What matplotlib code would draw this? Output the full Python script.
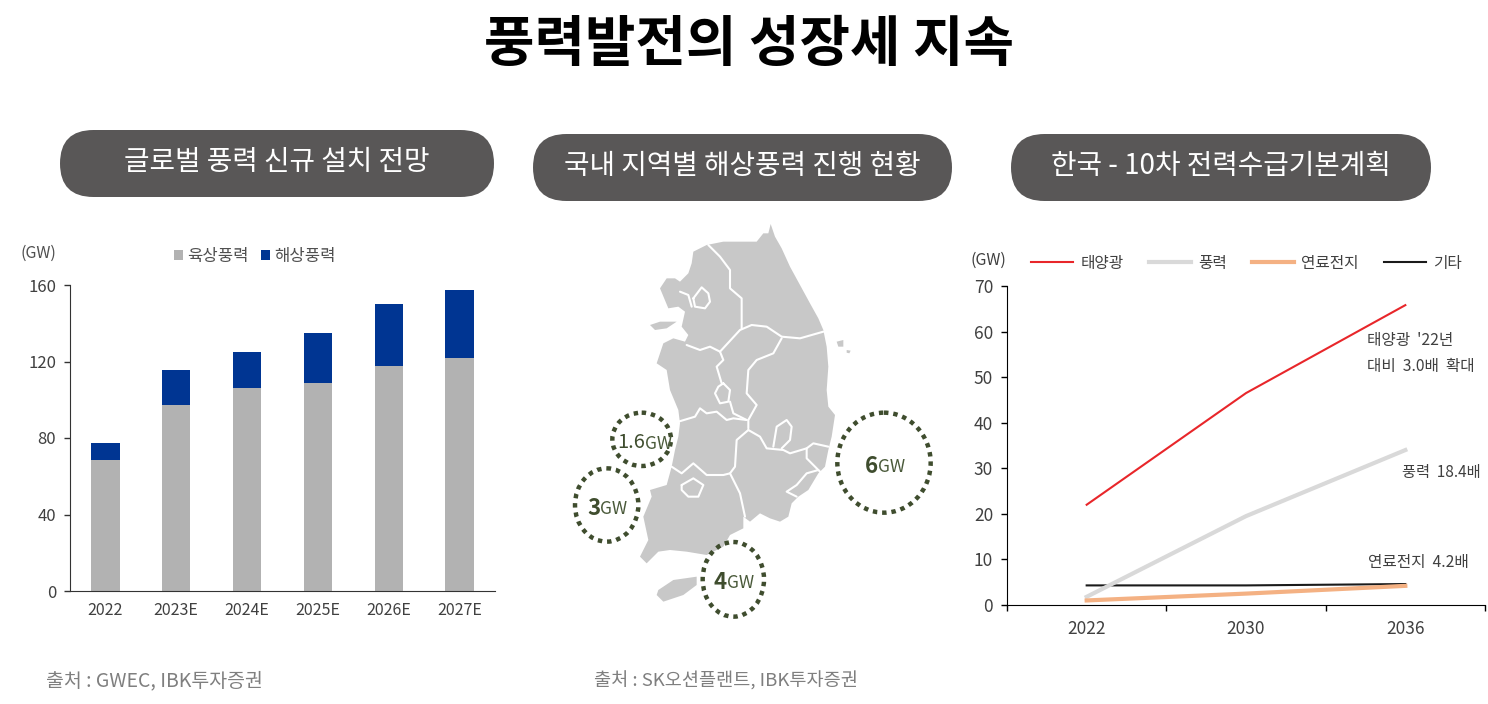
import matplotlib
matplotlib.use("Agg")
import matplotlib.pyplot as plt
from matplotlib.patches import Ellipse, FancyBboxPatch, Polygon

plt.rcParams['font.family'] = ['Noto Sans CJK KR', 'DejaVu Sans']

W, H = 1488, 704

# bar chart
bar_years = ["2022", "2023E", "2024E", "2025E", "2026E", "2027E"]
onshore = [68.5, 97, 106, 109, 117.6, 122]
offshore = [8.7, 18.5, 19, 26, 32.5, 35.3]

# line chart
line_years = ["2022", "2030", "2036"]
solar = [22, 46.5, 65.8]
wind = [1.8, 19.5, 34]
fuel_cell = [1, 2.5, 4.2]
other = [4.3, 4.3, 4.6]

# map (3x crop coordinates)
mainland = [(632, 42), (645, 80), (665, 115), (690, 170), (720, 225), (750, 280), (775, 325), (790, 360),
            (800, 410), (805, 470), (800, 540), (805, 590), (825, 615), (815, 680), (805, 720), (795, 770),
            (775, 790), (745, 840), (715, 860), (695, 880), (685, 920), (660, 935), (630, 925), (600, 910),
            (570, 935), (550, 920), (550, 955), (510, 975), (490, 1010), (440, 1035), (380, 1025), (330, 1020),
            (295, 1025), (260, 1060), (240, 1040), (265, 990), (250, 920), (275, 860), (270, 840), (320, 825),
            (335, 770), (345, 720), (355, 680), (360, 640), (355, 600), (330, 540), (320, 480), (290, 460),
            (310, 400), (340, 385), (375, 395), (385, 375), (365, 350), (375, 305), (355, 290), (325, 295),
            (300, 235), (320, 205), (345, 205), (360, 215), (385, 190), (395, 160), (400, 125), (440, 105),
            (490, 95), (590, 95), (610, 70), (625, 70)]
islands = [[(295, 1140), (340, 1110), (410, 1100), (410, 1125), (370, 1155), (310, 1175), (290, 1155)],
           [(270, 345), (300, 335), (350, 335), (320, 355), (285, 360)],
           [(830, 395), (850, 390), (850, 410), (835, 410)],
           [(860, 420), (872, 422), (868, 430), (860, 428)]]
borders = [[(445, 105), (480, 140), (510, 180), (510, 235), (545, 265), (545, 355)],
           [(380, 405), (420, 420), (450, 410), (480, 425), (540, 360), (575, 345), (620, 350), (665, 380), (720, 385), (790, 365)],
           [(665, 385), (640, 430), (590, 450), (565, 480), (560, 550), (590, 585), (565, 630), (565, 655)],
           [(480, 425), (490, 450), (470, 470), (485, 520)],
           [(510, 575), (520, 610), (560, 630)],
           [(490, 520), (510, 540), (505, 575), (480, 580), (465, 550), (475, 530), (490, 520)],
           [(355, 635), (405, 620), (420, 595), (440, 610), (470, 605), (500, 630), (520, 625), (560, 630)],
           [(565, 660), (530, 690), (525, 770), (510, 790), (540, 850), (555, 920)],
           [(335, 770), (365, 790), (400, 760), (440, 795), (490, 795), (510, 790)],
           [(365, 825), (400, 805), (430, 825), (415, 860), (385, 860), (365, 840), (365, 825)],
           [(565, 660), (600, 680), (620, 715), (670, 720), (690, 730), (740, 715), (760, 700), (805, 710)],
           [(640, 710), (650, 650), (680, 630), (695, 650), (690, 690), (665, 715)],
           [(740, 715), (740, 745), (770, 775), (785, 790)],
           [(775, 780), (740, 790), (710, 825), (680, 845), (710, 860)],
           [(400, 265), (425, 232), (445, 250), (450, 275), (435, 295), (405, 290), (400, 265)],
           [(360, 245), (385, 255), (395, 290)]]
# centre x, centre y, radius x, radius y, number, unit
sites = [(245, 688, 88, 80, "1.6", "GW"),
         (140, 885, 95, 110, "3", "GW"),
         (520, 1108, 92, 112, "4", "GW"),
         (972, 758, 140, 150, "6", "GW")]

pills = [(60, 130, 434, 67, "글로벌 풍력 신규 설치 전망"),
         (533, 134, 419, 67, "국내 지역별 해상풍력 진행 현황"),
         (1011, 134, 420, 67, "한국 - 10차 전력수급기본계획")]


def crop_xy(pt):
    return 560 + pt[0] / 3, 210 + pt[1] / 3


def make_axes(left, top, right, bottom):
    return fig.add_axes([left / W, 1 - bottom / H, (right - left) / W, (bottom - top) / H])


fig = plt.figure(figsize=(W / 100, H / 100), dpi=100, facecolor="white")

# whole picture layer in pixels, on top of the chart axes
bg = fig.add_axes([0, 0, 1, 1], zorder=5)
bg.set_xlim(0, W)
bg.set_ylim(H, 0)
bg.axis("off")

bg.text(749, 44, "풍력발전의 성장세 지속", fontsize=39.5, fontweight="black", ha="center", va="center", color="black")

for x, y, w, h, label in pills:
    bg.add_patch(FancyBboxPatch((x, y), w, h, boxstyle="round,pad=0,rounding_size=33.5", fc="#595757", ec="none"))
    bg.text(x + w / 2, y + h / 2 - 1, label, fontsize=20, color="white", ha="center", va="center")

bg.text(46, 681, "출처 : GWEC, IBK투자증권", fontsize=14, color="#7f7f7f", va="center", fontweight="light")
bg.text(594, 681, "출처 : SK오션플랜트, IBK투자증권", fontsize=13.4, color="#7f7f7f", va="center", fontweight="light")

# map
bg.add_patch(Polygon([crop_xy(p) for p in mainland], closed=True, fc="#c8c8c8", ec="none"))
for island in islands:
    bg.add_patch(Polygon([crop_xy(p) for p in island], closed=True, fc="#c8c8c8", ec="none"))
for border in borders:
    pts = [crop_xy(p) for p in border]
    bg.plot([p[0] for p in pts], [p[1] for p in pts], color="white", lw=1.5, solid_capstyle="round")
for cx, cy, rx, ry, num, unit in sites:
    px, py = crop_xy((cx, cy))
    bg.add_patch(Ellipse((px, py), 2 * rx / 3, 2 * ry / 3, fc="none", ec="#3f4d2e", lw=3.2, linestyle=(0, (1, 1.1))))
    size = 16 if num != "1.6" else 14.5
    off = -4.5 if num != "1.6" else 2.5
    bg.annotate(num, (px, py), xytext=(off, -2.5), textcoords="offset points", ha="right", va="center",
                fontsize=size, fontweight="bold" if num != "1.6" else "medium", color="#3f4d2e")
    bg.annotate(unit, (px, py), xytext=(off, -3), textcoords="offset points", ha="left", va="center",
                fontsize=12.5, fontweight="medium", color="#4a5a3a")

# bar chart
ax1 = make_axes(70, 285, 495, 591)
xs = list(range(len(bar_years)))
ax1.bar(xs, onshore, width=0.4, color="#b2b2b2", label="육상풍력")
ax1.bar(xs, offshore, width=0.4, bottom=onshore, color="#003592", label="해상풍력")
ax1.set_xlim(-0.5, 5.5)
ax1.set_ylim(0, 160)
ax1.set_yticks([0, 40, 80, 120, 160])
ax1.set_xticks(xs)
ax1.set_xticklabels(bar_years)
ax1.tick_params(axis="y", labelsize=12, length=4, width=1, color="#333333", labelcolor="#404040", pad=6)
ax1.tick_params(axis="x", labelsize=11.5, length=0, labelcolor="#404040", pad=8)
for s in ["top", "right"]:
    ax1.spines[s].set_visible(False)
for s in ["left", "bottom"]:
    ax1.spines[s].set_color("#333333")
bg.text(20, 253, "(GW)", fontsize=11.5, color="#505050", va="center")
ax1.legend(loc="lower left", bbox_to_anchor=(0.245, 1.065), ncol=2, frameon=False, fontsize=12, labelcolor="#505050",
           handlelength=0.55, handleheight=0.55, handletextpad=0.25, columnspacing=0.7, borderpad=0, borderaxespad=0)

# line chart
ax2 = make_axes(1007, 286, 1485, 605)
lx = list(range(len(line_years)))
ax2.plot(lx, other, color="#1a1a1a", lw=1.5, label="기타", zorder=2)
ax2.plot(lx, wind, color="#d9d9d9", lw=3, label="풍력", zorder=3)
ax2.plot(lx, fuel_cell, color="#f4b183", lw=3, label="연료전지", zorder=4)
ax2.plot(lx, solar, color="#e8262a", lw=1.5, label="태양광", zorder=5)
ax2.set_xlim(-0.5, 2.5)
ax2.set_ylim(0, 70)
ax2.set_yticks(range(0, 71, 10))
ax2.set_xticks(lx)
ax2.set_xticklabels(line_years)
ax2.set_xticks([-0.5, 0.5, 1.5, 2.5], minor=True)
ax2.tick_params(axis="y", labelsize=12.5, length=4, width=1, labelcolor="#404040", pad=6)
ax2.tick_params(axis="x", which="major", labelsize=12.5, length=0, labelcolor="#404040", pad=11)
ax2.tick_params(axis="x", which="minor", length=4, width=1)
for s in ["top", "right"]:
    ax2.spines[s].set_visible(False)
bg.text(971, 260, "(GW)", fontsize=11.5, color="#404040", va="center")
handles, labels = ax2.get_legend_handles_labels()
order = [3, 1, 2, 0]
ax2.legend([handles[i] for i in order], [labels[i] for i in order], loc="lower left", bbox_to_anchor=(0.05, 1.045), ncol=4,
           frameon=False, fontsize=11.3, labelcolor="#404040", handlelength=2.7, handletextpad=0.45, columnspacing=1.6,
           borderpad=0, borderaxespad=0)
bg.text(1367, 341, "태양광  '22년", fontsize=11.3, color="#404040", va="center")
bg.text(1367, 366, "대비  3.0배  확대", fontsize=11.3, color="#404040", va="center")
bg.text(1402, 472, "풍력  18.4배", fontsize=11, color="#404040", va="center")
bg.text(1368, 562, "연료전지  4.2배", fontsize=11.3, color="#404040", va="center")

fig.savefig("out.png", dpi=100)
